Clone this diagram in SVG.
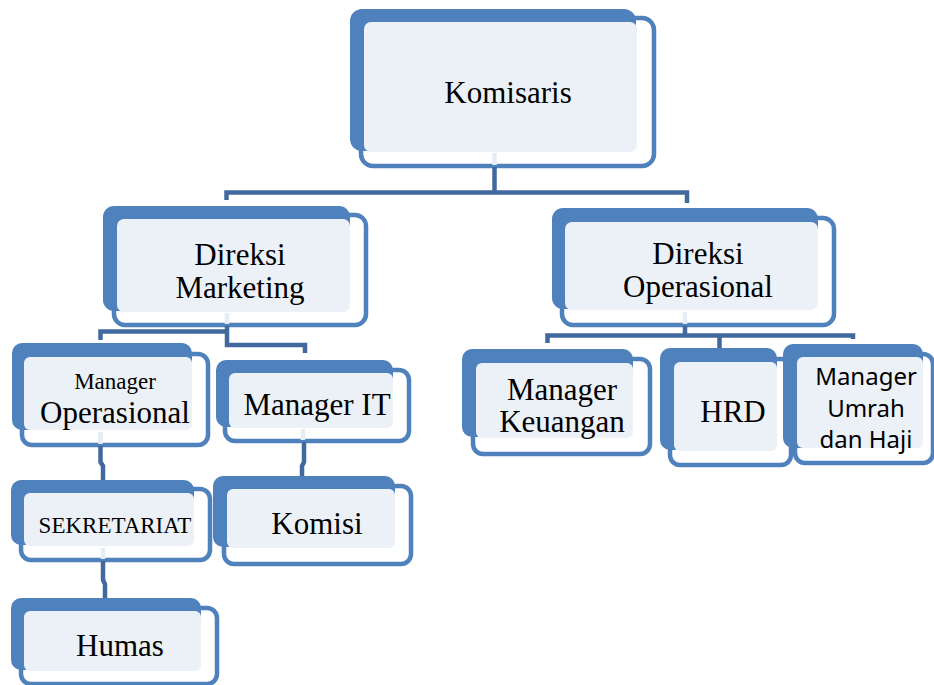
<svg xmlns="http://www.w3.org/2000/svg" width="934" height="685" viewBox="0 0 934 685">
<style>
.front{fill:#FFFFFF;stroke:#4F81BD;stroke-width:4.5}
.back{fill:#4F81BD}
.fill{fill:#ECF1F8}
.t{font-family:"Liberation Serif","Times New Roman",serif;font-size:31px;fill:#000;text-anchor:middle}
.s{font-size:23px}
.x{font-size:23px}
.sans{font-family:"Noto Sans","Open Sans",sans-serif;font-size:24px;fill:#000;text-anchor:middle}
.c{fill:none;stroke:#41699E;stroke-width:4.5}
.cl{fill:none;stroke:#E6EDF7;stroke-width:4.5}
</style>
<rect width="934" height="685" fill="#FFFFFF"/>
<g id="komisaris">
<rect class="front" x="361" y="18" width="293" height="148" rx="12"/>
<rect class="back" x="350" y="9" width="286" height="142" rx="12"/>
<rect class="fill" x="364" y="22" width="273" height="130" rx="7"/>
<text class="t" x="508" y="103">Komisaris</text>
</g>
<g id="direksi-marketing">
<rect class="front" x="114" y="215" width="252" height="110" rx="11"/>
<rect class="back" x="103" y="206" width="247" height="105" rx="11"/>
<rect class="fill" x="117" y="219" width="233" height="93" rx="7"/>
<text class="t" x="240" y="265">Direksi</text>
<text class="t" x="240" y="298">Marketing</text>
</g>
<g id="direksi-operasional">
<rect class="front" x="562" y="218" width="272" height="107" rx="11"/>
<rect class="back" x="552" y="208" width="266" height="101" rx="11"/>
<rect class="fill" x="565" y="222" width="253" height="88" rx="7"/>
<text class="t" x="698" y="264">Direksi</text>
<text class="t" x="698" y="297">Operasional</text>
</g>
<g id="manager-operasional">
<rect class="front" x="22" y="354" width="186" height="91" rx="10"/>
<rect class="back" x="12" y="343" width="180" height="87" rx="10"/>
<rect class="fill" x="24" y="357" width="168" height="73" rx="6"/>
<text class="t s" x="115" y="389">Manager</text>
<text class="t" x="115" y="423">Operasional</text>
</g>
<g id="manager-it">
<rect class="front" x="225" y="370" width="184" height="71" rx="10"/>
<rect class="back" x="216" y="360" width="177" height="67" rx="10"/>
<rect class="fill" x="229" y="373" width="164" height="55" rx="6"/>
<text class="t" x="317" y="415">Manager IT</text>
</g>
<g id="sekretariat">
<rect class="front" x="21" y="489" width="189" height="71" rx="10"/>
<rect class="back" x="11" y="480" width="183" height="65" rx="10"/>
<rect class="fill" x="24" y="493" width="170" height="53" rx="6"/>
<text class="t x" x="115" y="533">SEKRETARIAT</text>
</g>
<g id="komisi">
<rect class="front" x="224" y="486" width="187" height="78" rx="10"/>
<rect class="back" x="213" y="476" width="182" height="71" rx="10"/>
<rect class="fill" x="227" y="489" width="168" height="59" rx="6"/>
<text class="t" x="317" y="534">Komisi</text>
</g>
<g id="humas">
<rect class="front" x="21" y="608" width="196" height="76" rx="10"/>
<rect class="back" x="11" y="598" width="190" height="72" rx="10"/>
<rect class="fill" x="24" y="611" width="177" height="60" rx="6"/>
<text class="t" x="120" y="656">Humas</text>
</g>
<g id="manager-keuangan">
<rect class="front" x="473" y="359" width="177" height="95" rx="10"/>
<rect class="back" x="462" y="349" width="171" height="88" rx="10"/>
<rect class="fill" x="476" y="363" width="157" height="75" rx="6"/>
<text class="t" x="562" y="400">Manager</text>
<text class="t" x="562" y="432">Keuangan</text>
</g>
<g id="hrd">
<rect class="front" x="670" y="359" width="121" height="106" rx="10"/>
<rect class="back" x="660" y="348" width="117" height="102" rx="10"/>
<rect class="fill" x="674" y="362" width="103" height="89" rx="6"/>
<text class="t" x="733" y="422">HRD</text>
</g>
<g id="manager-umrah-haji">
<rect class="front" x="795" y="354" width="138" height="109" rx="10"/>
<rect class="back" x="783" y="344" width="140" height="104" rx="10"/>
<rect class="fill" x="797" y="357" width="126" height="91" rx="6"/>
<text class="sans" x="866" y="385">Manager</text>
<text class="sans" x="866" y="417">Umrah</text>
<text class="sans" x="866" y="448">dan Haji</text>
</g>
<g id="connectors">
<path class="cl" d="M494.5,153 V165 M227,313 V324 M100.5,432 V444 M303,429 V440 M103,548 V559 M685,312 V324"/>
<path class="c" d="M494.5,167 V192.5 M226.5,200 V192.5 H687 V203"/>
<path class="c" d="M227,326 V345 H305 V353 M100.5,340 V331.5 H227"/>
<path class="c" d="M100.5,446 V462 L103,466 V480"/>
<path class="c" d="M304,442 V462 L302,466 V476"/>
<path class="c" d="M103,561 V580 L105,584 V598"/>
<path class="c" d="M685,326 V335.5 M547.5,343 V335.5 H853 V339 M719.5,335.5 V348"/>
</g>
</svg>
